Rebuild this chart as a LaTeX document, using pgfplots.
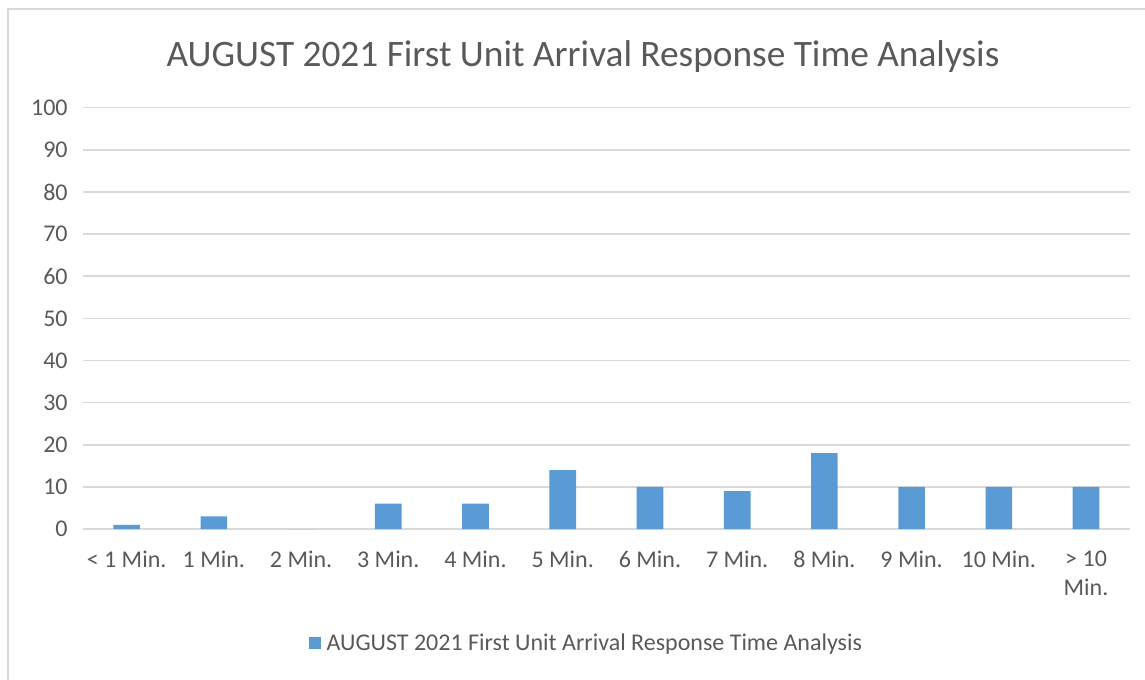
\documentclass[border=0pt]{standalone}
\usepackage{fontspec}
\setmainfont{Carlito}
\usepackage{pgfplots}
\pgfplotsset{compat=1.18}
\definecolor{barblue}{RGB}{91,155,213}
\definecolor{gridgray}{RGB}{217,217,217}
\definecolor{txtgray}{RGB}{89,89,89}

\begin{document}
\begin{tikzpicture}
\useasboundingbox (-62.25pt,-112.5pt) rectangle (796.5pt,396.75pt);
\draw[gridgray, line width=1.2pt] (-56.25pt,-120pt) -- (-56.25pt,390pt) -- (810pt,390pt);
\node[txtgray, font=\fontsize{28}{32}\selectfont] at (375pt,354pt) {AUGUST 2021 First Unit Arrival Response Time Analysis};
\begin{axis}[
  at={(0pt,0pt)}, anchor=south west,
  scale only axis,
  width=785pt, height=316pt,
  xmin=-0.5, xmax=11.5,
  ymin=0, ymax=100,
  ytick={0,10,...,100},
  xtick={0,...,11},
  xticklabels={{< 1 Min.},{1 Min.},{2 Min.},{3 Min.},{4 Min.},{5 Min.},{6 Min.},{7 Min.},{8 Min.},{9 Min.},{10 Min.},{> 10\\Min.}},
  x tick label style={align=center, anchor=north, yshift=-13pt, text=txtgray, font=\fontsize{18}{22}\selectfont},
  y tick label style={text=txtgray, font=\fontsize{18}{22}\selectfont, xshift=-8pt},
  /pgf/number format/assume math mode=true,
  major tick length=0pt,
  axis line style={draw=none},
  ymajorgrids, grid style={gridgray, line width=1.2pt},
  legend style={at={(0.4815,-0.2706)}, anchor=center, draw=none, fill=none,
    font=\fontsize{18}{22}\selectfont, text=txtgray,
    /tikz/every even column/.append style={column sep=3pt}},
  legend image code/.code={\fill[barblue] (0pt,-4.5pt) rectangle (9pt,4.5pt);},
]
\addplot[ybar, bar width=20pt, fill=barblue, draw=none] coordinates {
  (0,1) (1,3) (2,0) (3,6) (4,6) (5,14) (6,10) (7,9) (8,18) (9,10) (10,10) (11,10)};
\addlegendentry{\hspace{2pt}AUGUST 2021 First Unit Arrival Response Time Analysis}
\end{axis}
\end{tikzpicture}
\end{document}
